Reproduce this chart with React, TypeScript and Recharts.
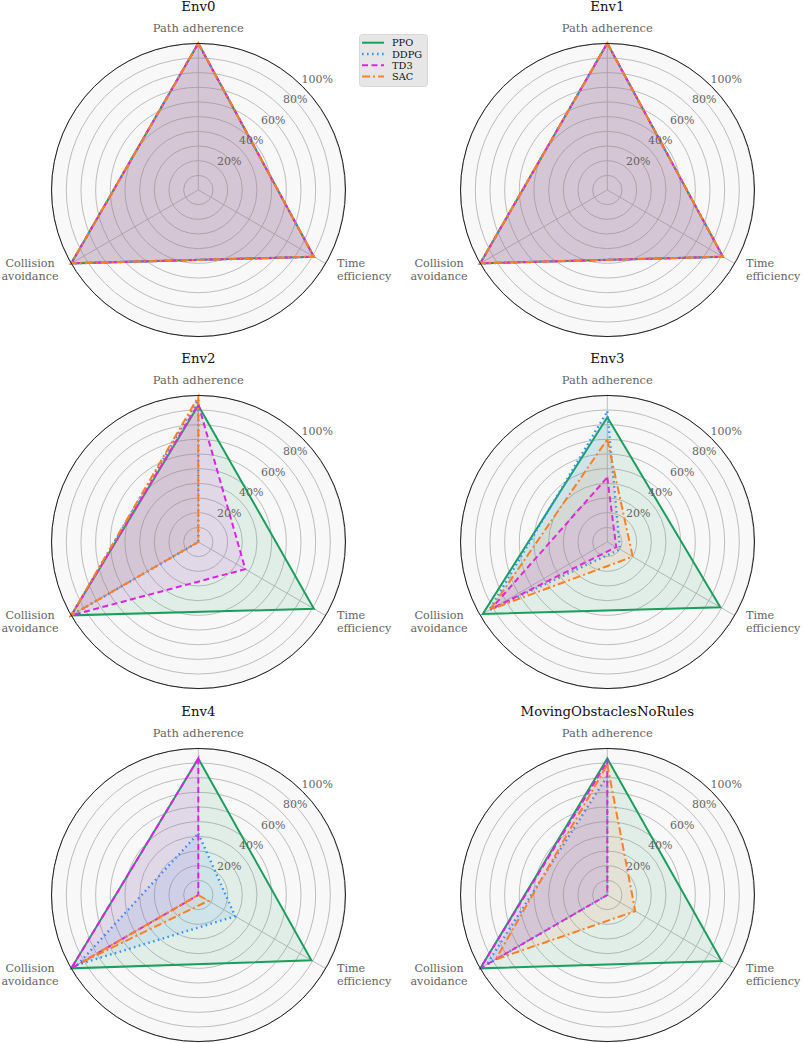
import React from 'react';
import { RadarChart, Radar, PolarGrid, PolarAngleAxis, PolarRadiusAxis, Legend } from 'recharts';

const METRICS = ['Path adherence', 'Time efficiency', 'Collision avoidance'];
const ENVS = ['Env0', 'Env1', 'Env2', 'Env3', 'Env4', 'MovingObstaclesNoRules'];
const RADIUS_TICKS = [0, 10, 20, 30, 40, 50, 60, 70, 80, 90, 100];

// scores per env: [path, time, collision]
const PPO_SCORES = [[100, 91, 100], [100, 91, 100], [93, 91, 100], [85, 89, 98], [93, 89, 100], [93, 90, 100]];
const DDPG_SCORES = [[100, 91, 100], [100, 91, 100], [97, 0, 100], [89, 10, 93], [42, 29, 95], [81, 0, 95]];
const TD3_SCORES = [[100, 91, 100], [100, 91, 100], [94, 37, 100], [44, 7, 92], [93, 0, 100], [91, 0, 100]];
const SAC_SCORES = [[100, 91, 100], [100, 91, 100], [99, 0, 100], [70, 20, 92], [0, 8, 92], [89, 22, 88]];

const SERIES = [
  { key: 'PPO', scores: PPO_SCORES, color: '#1b9e5e', dash: undefined as string | undefined, width: 2 },
  { key: 'DDPG', scores: DDPG_SCORES, color: '#3394f5', dash: '1.6 3.4', width: 2.4 },
  { key: 'TD3', scores: TD3_SCORES, color: '#dd22e6', dash: '6 3.5', width: 2 },
  { key: 'SAC', scores: SAC_SCORES, color: '#ff7f24', dash: '8 3 2 3', width: 2 },
];

const FONT = '"DejaVu Serif", serif';
const W = 400;
const H = 345;
const CX = 198.3;
const CY = 190;
const R = 146.7;
const COL_LEFT = [0, 409];
const ROW_TOP = [0, 352, 705];

const buildRows = (envIdx: number) =>
  METRICS.map((m, i) => {
    const row: any = { metric: m };
    SERIES.forEach((s) => (row[s.key] = s.scores[envIdx][i]));
    return row;
  });

const AngleTick = (props: any) => {
  const { x, y, payload } = props;
  const v: string = payload.value;
  const common = { fill: '#646464', fontSize: 11.2, fontFamily: FONT, dominantBaseline: 'central' as const };
  if (v === 'Path adherence') {
    return <text x={x} y={y - 7.6} textAnchor="middle" {...common} fontSize={11.5}>{v}</text>;
  }
  const [l1, l2] = v.split(' ');
  if (v === 'Time efficiency') {
    return (
      <text textAnchor="start" {...common}>
        <tspan x={x + 4.7} y={y - 4.6}>{l1}</tspan>
        <tspan x={x + 4.7} y={y + 8.3}>{l2}</tspan>
      </text>
    );
  }
  return (
    <text textAnchor="middle" {...common}>
      <tspan x={x - 34.3} y={y - 4.6}>{l1}</tspan>
      <tspan x={x - 34.3} y={y + 8.3}>{l2}</tspan>
    </text>
  );
};

const RADIUS_ANGLE = 43;
const RadiusTick = (props: any) => {
  const { x, y, payload } = props;
  const v = payload.value;
  if (v === 0 || v % 20 !== 0) return <g />;
  const off = 12 + v * 0.04;
  const a = (RADIUS_ANGLE * Math.PI) / 180;
  return (
    <text
      x={x + off * Math.cos(a)}
      y={y - off * Math.sin(a)}
      textAnchor="middle"
      dominantBaseline="central"
      fill="#646464"
      fontSize={11}
      fontFamily={FONT}
    >
      {`${v}%`}
    </text>
  );
};

const LegendBox = () => (
  <svg width={70} height={54} style={{ display: 'block' }}>
    <rect x={0.5} y={0.5} width={68} height={52} rx={3} fill="#e6e6e6" stroke="#d8d8d8" />
    {SERIES.map((s, i) => {
      const y = 8.7 + i * 11.3;
      return (
        <g key={s.key}>
          <line x1={3} x2={25} y1={y} y2={y} stroke={s.color} strokeWidth={s.width} strokeDasharray={s.dash} />
          <text x={33} y={y} dominantBaseline="central" fontSize={9.8} fontFamily={FONT} fill="#111">
            {s.key}
          </text>
        </g>
      );
    })}
  </svg>
);

const EnvRadar = ({ envIdx }: { envIdx: number }) => {
  const data = buildRows(envIdx);
  const left = COL_LEFT[envIdx % 2];
  const top = ROW_TOP[Math.floor(envIdx / 2)];
  return (
    <div style={{ position: 'absolute', left, top, width: W, height: H }}>
      <div
        style={{
          position: 'absolute', left: 0, width: 2 * CX, top: CY - 182.7 - 9, height: 18, lineHeight: '18px',
          textAlign: 'center', fontFamily: FONT, fontSize: 13.3, color: '#111',
        }}
      >
        {ENVS[envIdx]}
      </div>
      <div
        style={{
          position: 'absolute', left: CX - R, top: CY - R, width: 2 * R, height: 2 * R,
          borderRadius: '50%', background: '#f8f8f8',
        }}
      />
      <div style={{ position: 'absolute', left: 0, top: 0 }}>
        <RadarChart width={W} height={H} data={data} cx={CX} cy={CY} outerRadius={R} margin={{ top: 0, right: 0, bottom: 0, left: 0 }}>
          <PolarGrid gridType="circle" stroke="#bdbdbd" strokeWidth={1} />
          <PolarAngleAxis dataKey="metric" tick={AngleTick} tickLine={false} axisLine={false} />
          <PolarRadiusAxis
            domain={[0, 100]}
            ticks={RADIUS_TICKS as any}
            angle={RADIUS_ANGLE}
            axisLine={false}
            tickLine={false}
            tick={RadiusTick}
          />
          {SERIES.map((s) => (
            <Radar
              key={s.key}
              name={s.key}
              dataKey={s.key}
              stroke={s.color}
              strokeWidth={s.width}
              strokeDasharray={s.dash}
              fill={s.color}
              fillOpacity={0.1}
              dot={false}
              isAnimationActive={false}
            />
          ))}
          {envIdx === 0 && (
            <Legend
              content={() => <LegendBox />}
              wrapperStyle={{ position: 'absolute', left: 359, top: 34, width: 70, height: 54 }}
            />
          )}
        </RadarChart>
      </div>
      <div
        style={{
          position: 'absolute', left: CX - R - 0.7, top: CY - R - 0.7, width: 2 * R + 1.4, height: 2 * R + 1.4,
          borderRadius: '50%', border: '1.3px solid #222', boxSizing: 'border-box', pointerEvents: 'none',
        }}
      />
    </div>
  );
};

export default function App() {
  return (
    <div style={{ position: 'absolute', left: 0, top: 0, width: 803, height: 1043, background: '#fff', overflow: 'hidden' }}>
      {ENVS.map((_, i) => (
        <EnvRadar key={i} envIdx={i} />
      ))}
    </div>
  );
}
